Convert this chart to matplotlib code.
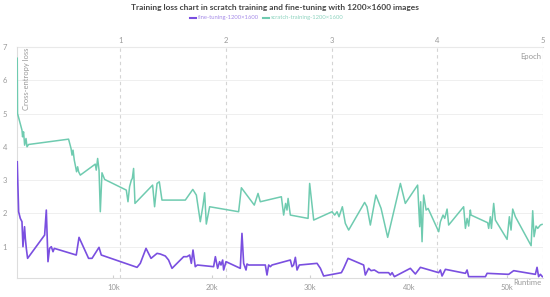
import numpy as np
import matplotlib
matplotlib.use('Agg')
import matplotlib.pyplot as plt

plt.rcParams['font.family'] = ['Lato', 'DejaVu Sans']

# runtime in thousands of seconds, loss values
scratch_runtime = [0.25, 0.28, 0.73, 0.79, 0.89, 1.0, 1.14, 1.24, 1.40, 5.46, 5.71, 5.81, 5.91,
                   6.04, 6.14, 6.27, 6.38, 6.48, 6.65, 8.17, 8.27, 8.41, 8.55, 8.68, 8.85, 9.12,
                   11.32, 11.49, 11.65, 11.83, 11.93, 12.06, 12.2, 13.99, 14.19, 14.44, 14.67,
                   14.94, 17.31, 18.07, 18.43, 18.83, 19.11, 19.27, 19.44, 19.78, 22.72, 23.0,
                   24.31, 24.69, 24.92, 27.06, 27.29, 27.49, 27.63, 27.74, 27.97, 29.77, 29.93,
                   30.34, 32.2, 32.47, 32.71, 32.91, 33.25, 33.55, 33.89, 35.51, 35.75, 36.09,
                   36.65, 37.18, 37.85, 39.14, 39.64, 40.89, 41.1, 41.2, 41.34, 41.5, 41.75,
                   41.95, 43.03, 43.2, 43.47, 43.64, 43.88, 44.04, 45.56, 45.74, 45.91, 46.07,
                   46.24, 46.31, 48.0, 48.1, 48.27, 48.38, 48.61, 48.78, 49.97, 50.2, 50.37,
                   50.54, 50.81, 52.41, 52.57, 52.71, 52.91, 53.08, 53.35, 53.52]
scratch_loss = [6.66, 5.0, 4.5, 4.3, 4.45, 4.05, 4.25, 4.0, 4.07, 4.23, 3.95, 3.75, 3.9,
                3.6, 3.45, 3.25, 3.4, 3.25, 3.15, 3.48, 3.3, 3.65, 3.3, 2.05, 3.22, 3.02,
                2.7, 2.35, 2.8, 3.0, 3.05, 3.35, 2.3, 2.85, 2.2, 2.9, 2.95,
                2.4, 2.4, 2.72, 2.55, 1.75, 2.25, 2.62, 1.68, 2.2, 2.05, 2.77,
                2.25, 2.6, 2.35, 2.5, 1.95, 2.3, 2.1, 2.45, 1.95, 1.85, 2.9,
                1.8, 2.05, 1.95, 2.05, 1.9, 2.2, 1.7, 1.5, 2.33, 2.2, 1.65,
                2.55, 2.15, 1.28, 2.9, 2.3, 2.85, 1.6, 2.35, 1.15, 2.55, 2.1,
                2.15, 1.45, 1.75, 1.95, 1.85, 2.13, 1.65, 2.2, 1.55, 1.85, 1.62,
                2.1, 1.95, 1.72, 1.55, 1.9, 1.55, 2.3, 1.8, 1.22, 1.9, 1.5,
                2.13, 1.9, 1.03, 2.08, 1.3, 1.62, 1.55, 1.65, 1.67]

finetune_runtime = [0.25, 0.39, 0.56, 0.73, 0.83, 0.99, 1.07, 1.17, 1.3, 3.03, 3.2, 3.37, 3.53,
                    3.71, 3.88, 4.01, 6.24, 6.52, 7.49, 7.84, 8.55, 8.78, 12.41, 12.74, 13.32,
                    13.83, 14.44, 14.77, 15.28, 15.61, 15.96, 17.14, 17.48, 17.75, 17.92, 18.09,
                    18.32, 18.53, 20.18, 20.36, 20.59, 20.79, 20.93, 21.1, 21.2, 21.44, 22.89,
                    23.06, 23.23, 23.47, 23.57, 23.74, 25.43, 25.6, 25.77, 25.94, 26.11, 27.97,
                    28.14, 28.3, 28.48, 28.65, 28.88, 30.68, 31.02, 31.35, 33.15, 33.38, 33.83,
                    35.41, 35.58, 35.92, 36.16, 36.5, 36.93, 37.95, 38.12, 38.3, 38.53, 40.15,
                    40.66, 41.17, 43.03, 43.2, 43.37, 43.71, 45.74, 45.91, 46.07, 47.77, 47.94,
                    50.13, 50.64, 52.84, 53.01, 53.17, 53.35, 53.55]
finetune_loss = [3.55, 2.05, 1.85, 1.75, 1.0, 1.6, 1.25, 0.95, 0.65, 1.35, 2.1, 0.55, 0.95,
                 1.0, 0.85, 0.95, 0.75, 1.28, 0.65, 0.65, 0.98, 0.75, 0.38, 0.5, 0.95,
                 0.65, 0.8, 0.78, 0.72, 0.6, 0.35, 0.7, 0.7, 0.75, 0.5, 0.9,
                 0.4, 0.45, 0.4, 0.7, 0.35, 0.55, 0.45, 0.6, 0.3, 0.55, 0.35,
                 1.4, 0.5, 0.3, 0.48, 0.45, 0.45, 0.15, 0.45, 0.4, 0.45, 0.6,
                 0.4, 0.45, 0.68, 0.3, 0.45, 0.5, 0.35, 0.12, 0.22, 0.35, 0.65,
                 0.45, 0.15, 0.35, 0.28, 0.3, 0.22, 0.22, 0.15, 0.22, 0.1, 0.35,
                 0.18, 0.38, 0.22, 0.3, 0.12, 0.32, 0.2, 0.3, 0.1, 0.1, 0.2,
                 0.17, 0.28, 0.17, 0.38, 0.1, 0.17, 0.1]

runtime_ticks = [10000, 20000, 30000, 40000, 50000]
runtime_labels = ['10k', '20k', '30k', '40k', '50k']
epoch_ticks = [1, 2, 3, 4, 5]
loss_ticks = [1, 2, 3, 4, 5, 6, 7]

# seconds per epoch, used for the top axis
sec_per_epoch = 10720

purple = '#7a4fe0'
teal = '#6fcbb0'
grey = '#9a9a9a'

fig = plt.figure(figsize=(5.5, 2.97), dpi=100)
ax = fig.add_axes([0.031, 0.064, 0.956, 0.778])

ax.plot(np.array(finetune_runtime) * 1000, finetune_loss, color=purple, lw=1.2, zorder=3)
ax.plot(np.array(scratch_runtime) * 1000, scratch_loss, color=teal, lw=1.1, zorder=3)

ax.set_xlim(230, 5 * sec_per_epoch)
ax.set_ylim(0.06, 7)

# grid: solid horizontal, dashed at the epoch boundaries
for y in loss_ticks:
    ax.axhline(y, color='#ececec', lw=0.6, zorder=1)
for e in epoch_ticks:
    ax.axvline(e * sec_per_epoch, color='#d4d4d4', lw=0.8, ls=(0, (3, 3)), zorder=1)

ax.set_yticks(loss_ticks)
ax.set_xticks(runtime_ticks)
ax.set_xticklabels(runtime_labels)
ax.tick_params(axis='y', length=0, pad=7, labelsize=5.5, labelcolor=grey)
ax.tick_params(axis='x', direction='in', length=2, color='#d0d0d0', pad=4, labelsize=5.5, labelcolor=grey)

for s in ['right', 'top']:
    ax.spines[s].set_visible(False)
for s in ['left', 'bottom']:
    ax.spines[s].set_color('#dddddd')
    ax.spines[s].set_linewidth(0.8)

# epoch axis on top
top = ax.secondary_xaxis('top', functions=(lambda x: x / sec_per_epoch, lambda e: e * sec_per_epoch))
top.set_xticks(epoch_ticks)
top.tick_params(length=0, pad=2, labelsize=5.5, labelcolor=grey)
top.spines['top'].set_color('#dddddd')
top.spines['top'].set_linewidth(0.8)

# axis names written inside the plot
ax.text(0.012, 0.995, 'Cross-entropy loss', transform=ax.transAxes, rotation=90,
        ha='left', va='top', fontsize=5.5, color=grey)
ax.text(0.997, 0.975, 'Epoch', transform=ax.transAxes, ha='right', va='top', fontsize=5.5, color=grey)
ax.text(0.997, -0.005, 'Runtime', transform=ax.transAxes, ha='right', va='top', fontsize=5.5, color=grey)

# title and legend
fig.text(0.5, 0.976, 'Training loss chart in scratch training and fine-tuning with 1200×1600 images',
         ha='center', va='center', fontsize=6.0, fontweight='bold', color='#444444')
fig.lines.append(plt.Line2D([0.345, 0.356], [0.940, 0.940], transform=fig.transFigure, color=purple, lw=1.5))
fig.text(0.359, 0.940, 'fine-tuning-1200×1600', ha='left', va='center', fontsize=4.2, color='#a58be8')
fig.lines.append(plt.Line2D([0.479, 0.489], [0.940, 0.940], transform=fig.transFigure, color=teal, lw=1.5))
fig.text(0.492, 0.940, 'scratch-training-1200×1600', ha='left', va='center', fontsize=4.2, color='#8fd4c0')

plt.savefig('out.png', dpi=100)
